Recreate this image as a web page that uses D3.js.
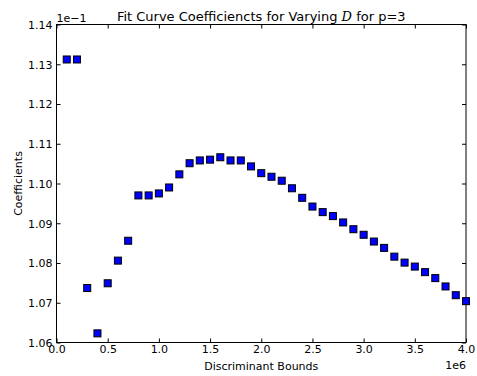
<!DOCTYPE html>
<html>
<head>
<meta charset="utf-8">
<script src="https://cdn.jsdelivr.net/npm/d3@7"></script>
<style>
  html, body { margin: 0; padding: 0; background: #fff; }
  svg { display: block; font-family: "DejaVu Sans", sans-serif; }
</style>
</head>
<body>
<svg id="chart" width="477" height="376"></svg>
<script>
// Discriminant bounds (units of 1e6) and fitted coefficients (units of 1e-1)
const bounds = [0.1, 0.2, 0.3, 0.4, 0.5, 0.6, 0.7, 0.8, 0.9, 1.0,
                1.1, 1.2, 1.3, 1.4, 1.5, 1.6, 1.7, 1.8, 1.9, 2.0,
                2.1, 2.2, 2.3, 2.4, 2.5, 2.6, 2.7, 2.8, 2.9, 3.0,
                3.1, 3.2, 3.3, 3.4, 3.5, 3.6, 3.7, 3.8, 3.9, 4.0];
const coefficients = [1.1312, 1.1312, 1.0737, 1.0623, 1.0749, 1.0806, 1.0856, 1.0970, 1.0970, 1.0975,
                      1.0990, 1.1023, 1.1051, 1.1058, 1.1060, 1.1066, 1.1058, 1.1058, 1.1043, 1.1026,
                      1.1017, 1.1007, 1.0988, 1.0964, 1.0942, 1.0928, 1.0918, 1.0902, 1.0885, 1.0871,
                      1.0854, 1.0838, 1.0816, 1.0801, 1.0791, 1.0777, 1.0762, 1.0741, 1.0719, 1.0704];
const xTicks = [0.0, 0.5, 1.0, 1.5, 2.0, 2.5, 3.0, 3.5, 4.0];
const yTicks = [1.06, 1.07, 1.08, 1.09, 1.10, 1.11, 1.12, 1.13, 1.14];

const svg = d3.select("#chart");
const plotLeft = 56.5, plotRight = 466, plotTop = 24.5, plotBottom = 342.5;

const x = d3.scaleLinear().domain([0, 4.0]).range([plotLeft, plotRight]);
const y = d3.scaleLinear().domain([1.06, 1.14]).range([plotBottom, plotTop]);

const tickLen = 4;
const fontSize = 11;

// Axes (ticks pointing inward on all four sides)
const gBottom = svg.append("g").attr("transform", `translate(0,${plotBottom})`)
  .call(d3.axisBottom(x).tickValues(xTicks).tickFormat(d3.format(".1f")).tickSizeInner(-tickLen).tickSizeOuter(0).tickPadding(3));
const gTop = svg.append("g").attr("transform", `translate(0,${plotTop})`)
  .call(d3.axisTop(x).tickValues(xTicks).tickFormat("").tickSizeInner(-tickLen).tickSizeOuter(0));
const gLeft = svg.append("g").attr("transform", `translate(${plotLeft},0)`)
  .call(d3.axisLeft(y).tickValues(yTicks).tickFormat(d3.format(".2f")).tickSizeInner(-tickLen).tickSizeOuter(0).tickPadding(4));
const gRight = svg.append("g").attr("transform", `translate(${plotRight},0)`)
  .call(d3.axisRight(y).tickValues(yTicks).tickFormat("").tickSizeInner(-tickLen).tickSizeOuter(0));

[gBottom, gTop, gLeft, gRight].forEach(g => {
  g.select(".domain").remove();
  g.selectAll(".tick line").attr("stroke", "#000").attr("stroke-width", 1);
  g.selectAll(".tick text").attr("fill", "#000").style("font-size", fontSize + "px")
    .style("font-family", "'DejaVu Sans', sans-serif");
});
gBottom.selectAll(".tick text").attr("dy", "0.71em");
gLeft.selectAll(".tick text").attr("dy", "0.35em");

// Frame
svg.append("rect")
  .attr("x", plotLeft).attr("y", plotTop)
  .attr("width", plotRight - plotLeft).attr("height", plotBottom - plotTop)
  .attr("fill", "none").attr("stroke", "#000").attr("stroke-width", 1);

// Square markers
const ms = 7;
svg.append("g")
  .selectAll("rect.pt")
  .data(bounds.map((b, i) => ({ b, c: coefficients[i] })))
  .join("rect")
  .attr("class", "pt")
  .attr("x", d => x(d.b) - ms / 2)
  .attr("y", d => y(d.c) - ms / 2)
  .attr("width", ms).attr("height", ms)
  .attr("fill", "#0000ff")
  .attr("stroke", "#000")
  .attr("stroke-width", 1);

// Offset labels
svg.append("text").attr("x", plotLeft).attr("y", plotTop - 2.5)
  .style("font-size", fontSize + "px").text("1e\u22121");
svg.append("text").attr("x", plotRight).attr("y", 369).attr("text-anchor", "end")
  .style("font-size", fontSize + "px").text("1e6");

// Title with italic D
const title = svg.append("text").attr("x", (plotLeft + plotRight) / 2).attr("y", 20.5)
  .attr("text-anchor", "middle").style("font-size", "13px");
title.append("tspan").text("Fit Curve Coefficiencts for Varying ");
title.append("tspan").style("font-family", "'DejaVu Serif', serif").style("font-style", "italic").text("D");
title.append("tspan").text(" for p=3");

// Axis labels
svg.append("text").attr("x", (plotLeft + plotRight) / 2).attr("y", 370)
  .attr("text-anchor", "middle").style("font-size", fontSize + "px").text("Discriminant Bounds");
svg.append("text").attr("transform", `translate(22,${(plotTop + plotBottom) / 2}) rotate(-90)`)
  .attr("text-anchor", "middle").style("font-size", fontSize + "px").text("Coefficients");
</script>
</body>
</html>
